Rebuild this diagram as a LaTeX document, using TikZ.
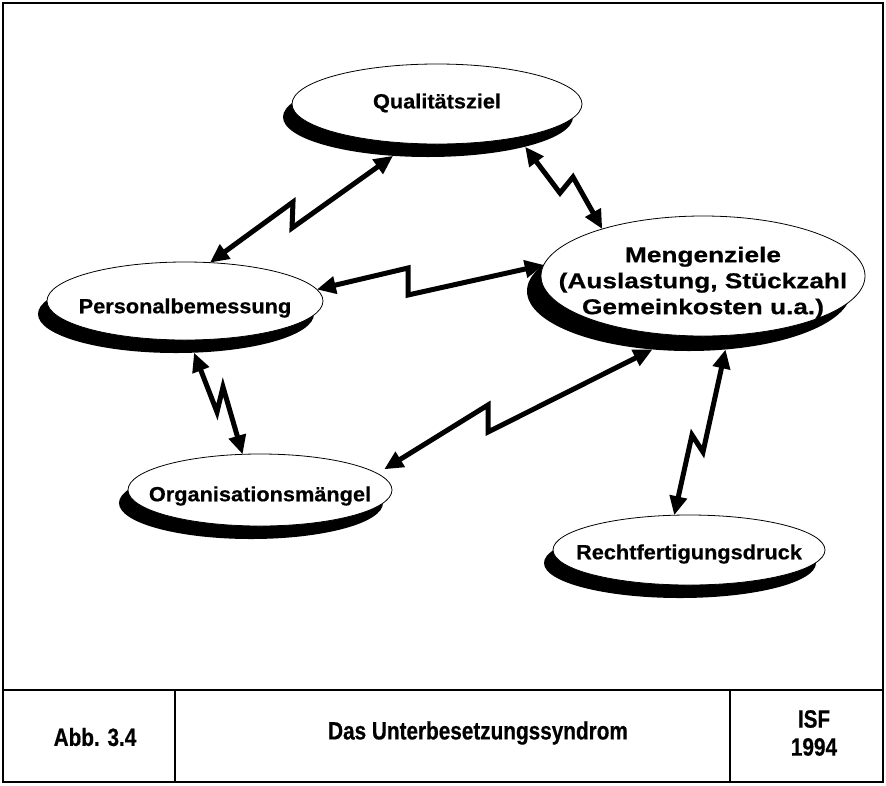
\documentclass[tikz,border=0pt]{standalone}
\usepackage{fontspec}
\usepackage{tikz}
\usetikzlibrary{shapes.geometric,arrows.meta,backgrounds}
\newfontfamily\bubblefont{Liberation Sans}[FakeStretch=1.06, BoldFeatures={FakeBold=0.6}]
\newfontfamily\mengfont{Liberation Sans}[FakeStretch=1.22, BoldFeatures={FakeBold=0.6}]
\newfontfamily\footfont{Liberation Sans}[FakeStretch=0.83, BoldFeatures={FakeBold=0.5}]
\newcommand{\nowide}[2][6pt]{\makebox[0pt]{\raisebox{-#1}[\height][\depth]{#2}}}

\begin{document}
\begin{tikzpicture}[x=1pt,y=1pt,yscale=-1,xscale=1,
  bubble/.style 2 args={ellipse, draw, line width=0.8pt, fill=white, inner sep=0pt, outer sep=0pt,
    minimum width=#1, minimum height=#2, font=\bubblefont\bfseries\fontsize{20.5}{26}\selectfont},
  blot/.style 2 args={ellipse, fill=black, inner sep=0pt, outer sep=0pt, minimum width=#1, minimum height=#2},
  zap/.style={line width=5pt, line join=miter, {Triangle[length=19pt,width=17pt]}-{Triangle[length=19pt,width=17pt]}},
  foot/.style={font=\footfont\bfseries\fontsize{25}{28}\selectfont, align=center, inner sep=0pt}]
\useasboundingbox (0,0) rectangle (886,785);

%Frame
\draw[line width=1.5pt] (3,3) rectangle (883,782);
\draw[line width=1.5pt] (3,690) -- (883,690);
\draw[line width=1.5pt] (175,690) -- (175,782);
\draw[line width=1.5pt] (730,690) -- (730,782);

%Ellipses
\node[bubble={290pt}{80pt}] (qual) at (437,104) {\nowide[-1pt]{Qualitätsziel}};
\node[bubble={276pt}{78pt}] (pers) at (185,301) {\nowide[7pt]{Personalbemessung}};
\node[bubble={324pt}{120pt}, font=\mengfont\bfseries\fontsize{21.5}{26}\selectfont] (meng) at (703,276) {\nowide[7pt]{\begin{tabular}{@{}c@{}}Mengenziele\\(Auslastung, Stückzahl\\Gemeinkosten u.a.)\end{tabular}}};
\node[bubble={264pt}{72pt}] (org) at (260,490) {\nowide{Organisationsmängel}};
\node[bubble={272pt}{70pt}] (recht) at (689,550) {\nowide[4pt]{Rechtfertigungsdruck}};

%Shadows
\begin{scope}[on background layer]
\node[blot={290pt}{80pt}] (qual-s) at ([shift={(-9,13)}]qual.center) {};
\node[blot={276pt}{78pt}] (pers-s) at ([shift={(-9,13)}]pers.center) {};
\node[blot={324pt}{120pt}] (meng-s) at ([shift={(-14,15)}]meng.center) {};
\node[blot={264pt}{72pt}] (org-s) at ([shift={(-9,13)}]org.center) {};
\node[blot={272pt}{70pt}] (recht-s) at ([shift={(-9,13)}]recht.center) {};
\end{scope}

%Kinks
\coordinate (za1) at (293,202);
\coordinate (za2) at (292,228);
\coordinate (zb1) at (560,193);
\coordinate (zb2) at (573,177);
\coordinate (zc1) at (408,268);
\coordinate (zc2) at (408,295);
\coordinate (zd1) at (217,412);
\coordinate (zd2) at (223,387);
\coordinate (ze1) at (488,405);
\coordinate (ze2) at (488,432);
\coordinate (zf1) at (703,452);
\coordinate (zf2) at (692,435);

%Arrows
\draw[zap] (pers.57) -- (za1) -- (za2) -- (qual-s.-132);
\draw[zap] (qual-s.-17) -- (zb1) -- (zb2) -- (meng.155);
\draw[zap] (pers.5) -- (zc1) -- (zc2) -- (meng.176);
\draw[zap] (pers-s.-65) -- (zd1) -- (zd2) -- (org.116);
\draw[zap, shorten <=8pt] (org.8) -- (ze1) -- (ze2) -- (meng-s.-122);
\draw[zap] (meng-s.-58) -- (zf1) -- (zf2) -- (recht.113);

% Text Node
\node[foot] (abb) at (95,737) {Abb. 3.4};
% Text Node
\node[foot] (title) at (478,733) {Das Unterbesetzungssyndrom};
% Text Node
\node[foot] (isf) at (814,733) {ISF\\1994};

\end{tikzpicture}
\end{document}
